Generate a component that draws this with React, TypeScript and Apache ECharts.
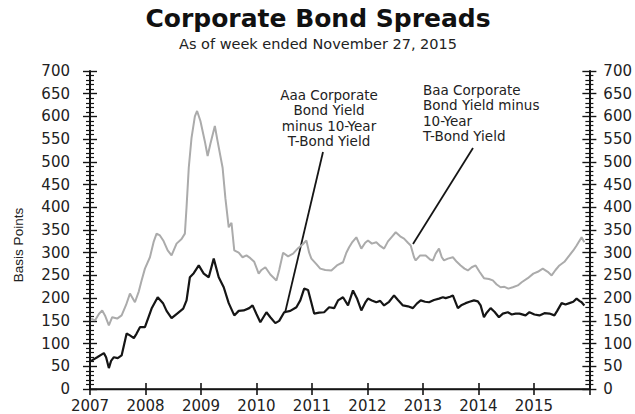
import React, { useEffect, useRef } from "react";
import * as echarts from "echarts";

const chartTitle = "Corporate Bond Spreads";
const chartSubtitle = "As of week ended November 27, 2015";
const yAxisTitle = "Basis Points";
const aaaNote = "Aaa Corporate\nBond Yield\nminus 10-Year\nT-Bond Yield";
const baaNote = "Baa Corporate\nBond Yield minus\n10-Year\nT-Bond Yield";
const yearTicks = [2007, 2008, 2009, 2010, 2011, 2012, 2013, 2014, 2015];

// Aaa corporate bond yield minus 10-year T-bond yield (bp), [decimal year, value]
const aaaSpread: number[][] = [
  [2007.02, 62], [2007.13, 70], [2007.25, 79], [2007.29, 70], [2007.34, 46], [2007.38, 62], [2007.43, 70], [2007.5, 68], [2007.57, 74], [2007.66, 122],
  [2007.72, 118], [2007.79, 112], [2007.84, 122], [2007.9, 136], [2007.99, 136], [2008.06, 160], [2008.11, 177], [2008.22, 202], [2008.32, 188], [2008.38, 172],
  [2008.47, 156], [2008.56, 165], [2008.68, 177], [2008.74, 195], [2008.8, 246], [2008.87, 255], [2008.96, 272], [2009.05, 254], [2009.14, 246], [2009.23, 287],
  [2009.32, 246], [2009.41, 224], [2009.5, 189], [2009.6, 162], [2009.68, 172], [2009.77, 173], [2009.87, 178], [2009.93, 184], [2010.0, 165], [2010.07, 147],
  [2010.18, 169], [2010.25, 158], [2010.34, 145], [2010.41, 150], [2010.5, 169], [2010.61, 172], [2010.72, 180], [2010.79, 195], [2010.86, 221], [2010.93, 218],
  [2010.99, 190], [2011.04, 166], [2011.13, 168], [2011.22, 169], [2011.31, 180], [2011.4, 178], [2011.47, 195], [2011.56, 202], [2011.65, 184], [2011.74, 217],
  [2011.81, 200], [2011.89, 173], [2011.96, 190], [2012.01, 199], [2012.08, 195], [2012.16, 191], [2012.23, 194], [2012.3, 184], [2012.39, 192], [2012.48, 206],
  [2012.55, 196], [2012.64, 184], [2012.73, 182], [2012.82, 178], [2012.89, 188], [2012.96, 195], [2013.04, 192], [2013.11, 191], [2013.2, 196], [2013.29, 199],
  [2013.36, 202], [2013.41, 200], [2013.49, 203], [2013.54, 206], [2013.63, 178], [2013.7, 185], [2013.77, 189], [2013.84, 192], [2013.92, 195], [2013.99, 193],
  [2014.04, 184], [2014.1, 158], [2014.15, 168], [2014.22, 178], [2014.29, 170], [2014.37, 158], [2014.44, 166], [2014.53, 169], [2014.6, 164], [2014.67, 166],
  [2014.74, 166], [2014.85, 162], [2014.92, 169], [2015.01, 164], [2015.1, 162], [2015.19, 167], [2015.28, 166], [2015.37, 162], [2015.42, 172], [2015.5, 189],
  [2015.57, 186], [2015.64, 189], [2015.71, 192], [2015.77, 199], [2015.82, 194], [2015.86, 191], [2015.91, 184],
];

// Baa corporate bond yield minus 10-year T-bond yield (bp), [decimal year, value]
const baaSpread: number[][] = [
  [2007.02, 155], [2007.09, 151], [2007.16, 165], [2007.22, 173], [2007.27, 162], [2007.34, 140], [2007.4, 158], [2007.49, 155], [2007.57, 162], [2007.65, 185],
  [2007.72, 210], [2007.81, 191], [2007.88, 215], [2007.93, 239], [2007.99, 265], [2008.08, 290], [2008.15, 325], [2008.2, 342], [2008.26, 338], [2008.32, 327],
  [2008.4, 305], [2008.47, 294], [2008.56, 320], [2008.65, 330], [2008.71, 342], [2008.74, 400], [2008.78, 487], [2008.83, 553], [2008.89, 600], [2008.93, 612],
  [2008.99, 590], [2009.07, 545], [2009.12, 513], [2009.17, 540], [2009.25, 579], [2009.3, 545], [2009.39, 487], [2009.44, 420], [2009.5, 356], [2009.55, 366],
  [2009.6, 305], [2009.68, 300], [2009.75, 290], [2009.82, 294], [2009.89, 288], [2009.96, 280], [2010.04, 254], [2010.09, 262], [2010.16, 268], [2010.25, 252],
  [2010.36, 239], [2010.41, 262], [2010.48, 300], [2010.57, 292], [2010.66, 298], [2010.75, 310], [2010.83, 318], [2010.9, 327], [2010.95, 300], [2010.99, 287],
  [2011.08, 275], [2011.15, 265], [2011.24, 262], [2011.35, 261], [2011.45, 272], [2011.56, 279], [2011.62, 300], [2011.67, 312], [2011.72, 322], [2011.8, 334],
  [2011.89, 309], [2011.96, 322], [2012.01, 327], [2012.08, 320], [2012.16, 323], [2012.23, 315], [2012.3, 309], [2012.37, 325], [2012.44, 335], [2012.51, 345],
  [2012.59, 336], [2012.66, 331], [2012.73, 322], [2012.78, 316], [2012.84, 290], [2012.87, 283], [2012.95, 294], [2013.0, 294], [2013.05, 294], [2013.13, 285],
  [2013.18, 283], [2013.23, 298], [2013.29, 309], [2013.34, 290], [2013.38, 283], [2013.45, 287], [2013.54, 290], [2013.61, 280], [2013.68, 272], [2013.75, 265],
  [2013.81, 261], [2013.88, 268], [2013.95, 272], [2014.02, 258], [2014.1, 244], [2014.19, 242], [2014.26, 239], [2014.33, 230], [2014.4, 224], [2014.47, 225],
  [2014.54, 221], [2014.62, 224], [2014.71, 228], [2014.78, 235], [2014.89, 244], [2014.99, 254], [2015.07, 258], [2015.16, 265], [2015.25, 258], [2015.32, 250],
  [2015.39, 262], [2015.46, 272], [2015.55, 280], [2015.64, 294], [2015.71, 305], [2015.77, 316], [2015.86, 334], [2015.91, 323],
];

const INK = "#151515";
const LABEL = "#222222";
const TICK_FONT = "DejaVu Sans";

export default function App() {
  const ref = useRef<HTMLDivElement>(null);

  useEffect(() => {
    if (!ref.current) return;
    const chart = echarts.init(ref.current, undefined, { renderer: "svg" });

    const xBase = {
      type: "value" as const,
      min: yearTicks[0],
      max: yearTicks[yearTicks.length - 1] + 1,
      interval: 1,
      splitLine: { show: false },
    };
    const yBase = {
      type: "value" as const,
      min: 0,
      max: 700,
      interval: 50,
      splitLine: { show: false },
      minorSplitLine: { show: false },
    };
    const axisLabelStyle = { fontFamily: TICK_FONT, fontSize: 15, color: LABEL };

    chart.setOption({
      animation: false,
      backgroundColor: "#ffffff",
      grid: { left: 90, right: 44, top: 71, bottom: 25, containLabel: false },
      xAxis: [
        {
          ...xBase,
          position: "bottom",
          axisLine: { show: true, lineStyle: { color: INK, width: 1.6 } },
          axisTick: { show: true, length: 6, lineStyle: { color: INK, width: 1.6 } },
          axisLabel: {
            ...axisLabelStyle,
            margin: 9,
            formatter: (v: number) => (yearTicks.indexOf(v) >= 0 ? String(v) : ""),
          },
        },
        {
          ...xBase,
          position: "bottom",
          axisLine: { show: false },
          axisTick: { show: true, inside: true, length: 6, lineStyle: { color: INK, width: 1.6 } },
          axisLabel: { show: false },
        },
        {
          ...xBase,
          position: "top",
          axisLine: { show: true, lineStyle: { color: INK, width: 1.4 } },
          axisTick: { show: false },
          axisLabel: { show: false },
        },
      ],
      yAxis: [
        {
          ...yBase,
          position: "left",
          axisLine: { show: true, lineStyle: { color: INK, width: 2 } },
          axisTick: { show: true, length: 7, lineStyle: { color: INK, width: 1.4 } },
          minorTick: { show: true, splitNumber: 5, length: 4, lineStyle: { color: INK, width: 1.2 } },
          axisLabel: { ...axisLabelStyle, margin: 20 },
        },
        {
          ...yBase,
          position: "left",
          axisLine: { show: false },
          axisTick: { show: true, inside: true, length: 7, lineStyle: { color: INK, width: 1.4 } },
          minorTick: { show: true, splitNumber: 5, length: 4, lineStyle: { color: INK, width: 1.2 } },
          axisLabel: { show: false },
        },
        {
          ...yBase,
          position: "right",
          axisLine: { show: true, lineStyle: { color: INK, width: 2 } },
          axisTick: { show: true, length: 7, lineStyle: { color: INK, width: 1.4 } },
          minorTick: { show: true, splitNumber: 5, length: 4, lineStyle: { color: INK, width: 1.2 } },
          axisLabel: { ...axisLabelStyle, margin: 14 },
        },
        {
          ...yBase,
          position: "right",
          axisLine: { show: false },
          axisTick: { show: true, inside: true, length: 7, lineStyle: { color: INK, width: 1.4 } },
          minorTick: { show: true, splitNumber: 5, length: 4, lineStyle: { color: INK, width: 1.2 } },
          axisLabel: { show: false },
        },
      ],
      series: [
        {
          name: "Baa Corporate Bond Yield minus 10-Year T-Bond Yield",
          type: "line",
          xAxisIndex: 0,
          yAxisIndex: 0,
          data: baaSpread,
          showSymbol: false,
          symbol: "none",
          lineStyle: { color: "#ababab", width: 2 },
          z: 2,
        },
        {
          name: "Aaa Corporate Bond Yield minus 10-Year T-Bond Yield",
          type: "line",
          xAxisIndex: 0,
          yAxisIndex: 0,
          data: aaaSpread,
          showSymbol: false,
          symbol: "none",
          lineStyle: { color: INK, width: 2.2 },
          z: 3,
        },
      ],
      graphic: [
        {
          type: "text",
          x: 318,
          y: 18,
          style: {
            text: chartTitle,
            font: 'bold 25px "DejaVu Sans", sans-serif',
            fill: "#111",
            textAlign: "center",
            textVerticalAlign: "middle",
          },
        },
        {
          type: "text",
          x: 318,
          y: 44,
          style: {
            text: chartSubtitle,
            font: '14.5px "DejaVu Sans", sans-serif',
            fill: LABEL,
            textAlign: "center",
            textVerticalAlign: "middle",
          },
        },
        {
          type: "text",
          x: 18,
          y: 245,
          rotation: Math.PI / 2,
          style: {
            text: yAxisTitle,
            font: '13.5px "Liberation Sans", Arial, sans-serif',
            fill: LABEL,
            textAlign: "center",
            textVerticalAlign: "middle",
          },
        },
        {
          type: "text",
          x: 329,
          y: 87,
          style: {
            text: aaaNote,
            font: '13.5px "DejaVu Sans", sans-serif',
            lineHeight: 15.5,
            fill: LABEL,
            textAlign: "center",
            textVerticalAlign: "top",
          },
        },
        {
          type: "text",
          x: 423,
          y: 82,
          style: {
            text: baaNote,
            font: '13.5px "DejaVu Sans", sans-serif',
            lineHeight: 15.5,
            fill: LABEL,
            textAlign: "left",
            textVerticalAlign: "top",
          },
        },
        {
          type: "line",
          shape: { x1: 323, y1: 152, x2: 285, y2: 313 },
          style: { stroke: INK, lineWidth: 1.8 },
        },
        {
          type: "line",
          shape: { x1: 473, y1: 148, x2: 413, y2: 244 },
          style: { stroke: INK, lineWidth: 1.8 },
        },
      ],
    });

    return () => chart.dispose();
  }, []);

  return (
    <div
      ref={ref}
      style={{ position: "fixed", left: 0, top: 0, width: 635, height: 414, background: "#fff" }}
    />
  );
}
